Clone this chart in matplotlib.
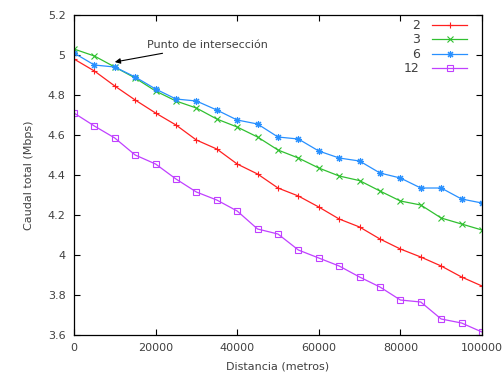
import matplotlib
matplotlib.use('Agg')
import matplotlib.pyplot as plt

# distance in metres, one point every 5000
distancia = list(range(0, 100001, 5000))

caudal_2 = [4.98, 4.92, 4.845, 4.775, 4.71, 4.65, 4.575, 4.53, 4.455, 4.405, 4.335,
            4.295, 4.24, 4.18, 4.14, 4.08, 4.03, 3.99, 3.945, 3.89, 3.845]
caudal_3 = [5.03, 4.995, 4.94, 4.885, 4.82, 4.77, 4.735, 4.68, 4.64, 4.59, 4.525,
            4.485, 4.435, 4.395, 4.372, 4.32, 4.27, 4.25, 4.185, 4.155, 4.125]
caudal_6 = [5.01, 4.95, 4.94, 4.89, 4.83, 4.78, 4.77, 4.725, 4.675, 4.655, 4.59,
            4.58, 4.52, 4.485, 4.47, 4.41, 4.385, 4.335, 4.335, 4.28, 4.26]
caudal_12 = [4.71, 4.645, 4.585, 4.5, 4.455, 4.38, 4.315, 4.275, 4.22, 4.13, 4.105,
             4.025, 3.985, 3.945, 3.89, 3.84, 3.775, 3.765, 3.68, 3.66, 3.615]

etiquetas = ['2', '3', '6', '12']
xticks = [0, 20000, 40000, 60000, 80000, 100000]
yticks = [3.6, 3.8, 4.0, 4.2, 4.4, 4.6, 4.8, 5.0, 5.2]
yticklabels = ['3.6', '3.8', '4', '4.2', '4.4', '4.6', '4.8', '5', '5.2']

gris = '#404040'
plt.rcParams['font.family'] = ['DejaVu Sans']
plt.rcParams['font.size'] = 8

fig = plt.figure(figsize=(5.04, 3.83), dpi=100)
ax = fig.add_axes([0.1468, 0.1253, 0.8095, 0.8355])

series = [caudal_2, caudal_3, caudal_6, caudal_12]
colores = ['#ff2020', '#30c030', '#2890ff', '#c040ff']
# gnuplot-like point types: plus, cross, asterisk, open square
marcas = ['+', 'x', (8, 2, 0), 's']
tamanos = [5, 5, 5, 4.5]
for datos, color, marca, tam, etiqueta in zip(series, colores, marcas, tamanos, etiquetas):
    ax.plot(distancia, datos, color=color, marker=marca, markersize=tam,
            markerfacecolor='none', markeredgewidth=0.8, linewidth=0.9,
            label=etiqueta)

ax.set_xlim(0, 100000)
ax.set_ylim(3.6, 5.2)
ax.set_xticks(xticks)
ax.set_xticklabels([str(v) for v in xticks])
ax.set_yticks(yticks)
ax.set_yticklabels(yticklabels)
ax.tick_params(direction='in', length=4, width=0.8, top=True, right=True,
               labelcolor=gris, labelsize=8, pad=6)
for s in ax.spines.values():
    s.set_linewidth(0.9)

ax.set_xlabel('Distancia (metros)', color=gris, fontsize=8, labelpad=6)
ax.set_ylabel('Caudal total (Mbps)', color=gris, fontsize=8, labelpad=10)

ax.annotate('Punto de intersección', xy=(10000, 4.965), xytext=(18000, 5.05),
            color=gris, fontsize=8, va='center', ha='left',
            arrowprops=dict(arrowstyle='-|>', color='black', lw=0.8,
                            shrinkA=2, shrinkB=0, mutation_scale=8))

leg = ax.legend(loc='upper right', bbox_to_anchor=(0.985, 1.015), markerfirst=False,
                frameon=False, handlelength=2.8, handletextpad=1.0, labelspacing=0.12,
                borderaxespad=0.3, fontsize=9)
for t in leg.get_texts():
    t.set_color(gris)
    t.set_ha('right')

fig.savefig('out.png', dpi=100)
